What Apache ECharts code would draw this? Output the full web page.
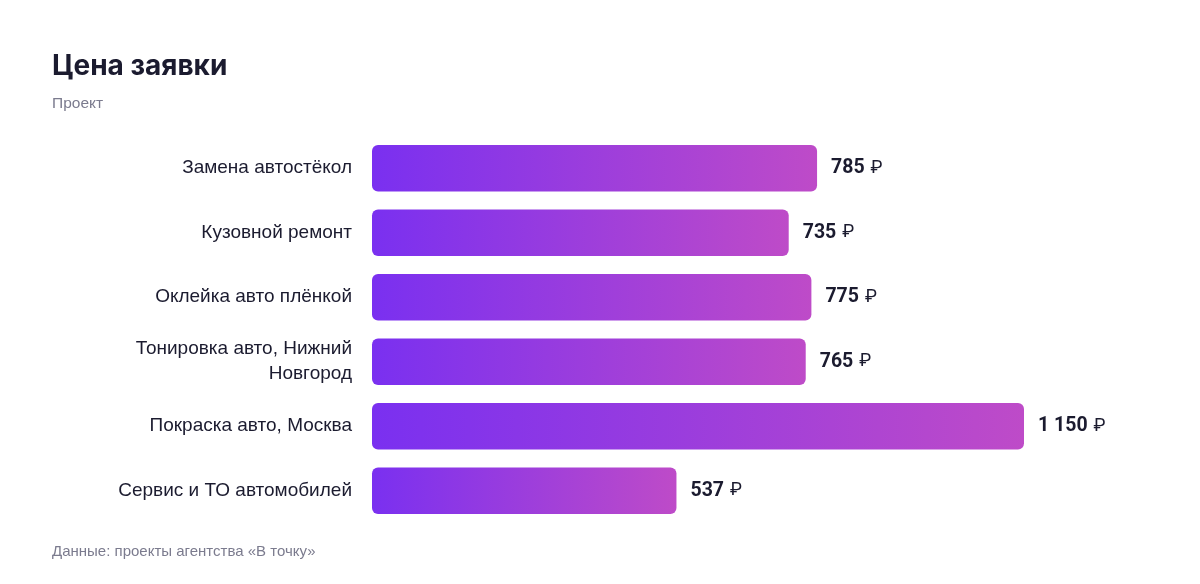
<!DOCTYPE html>
<html>
<head>
<meta charset="utf-8">
<script src="https://cdn.jsdelivr.net/npm/echarts@6/dist/echarts.min.js"></script>
<style>
  html, body { margin: 0; padding: 0; background: #fff; }
  #chart { width: 1200px; height: 584px; }
</style>
</head>
<body>
<div id="chart"></div>
<script>
// данные
const categories = [
    'Замена автостёкол',
    'Кузовной ремонт',
    'Оклейка авто плёнкой',
    'Тонировка авто, Нижний\nНовгород',
    'Покраска авто, Москва',
    'Сервис и ТО автомобилей'
];
const prices = [785, 735, 775, 765, 1150, 537];

const fmt = v => String(v).replace(/\B(?=(\d{3})+(?!\d))/g, ' ');

let myChart = echarts.init(document.getElementById('chart'));
let option = {
    backgroundColor: '#fff',
    animation: false,
    title: [
        {
            text: 'Цена заявки',
            left: 47, top: 48,
            textStyle: { fontFamily: 'Inter', fontSize: 28, fontWeight: 'bold', color: '#1b1b2f' }
        },
        {
            text: 'Проект',
            left: 47, top: 91,
            textStyle: { fontFamily: 'Liberation Sans', fontSize: 15.5, fontWeight: 'normal', color: '#7b7b8e' }
        },
        {
            text: 'Данные: проекты агентства «В точку»',
            left: 47, top: 539,
            textStyle: { fontFamily: 'Liberation Sans', fontSize: 15, fontWeight: 'normal', color: '#7b7b8e' }
        }
    ],
    grid: { left: 372, right: 176, top: 136, bottom: 61 },
    xAxis: {
        type: 'value',
        min: 0,
        max: 1150,
        show: false
    },
    yAxis: {
        type: 'category',
        inverse: true,
        data: categories,
        axisLine: { show: false },
        axisTick: { show: false },
        axisLabel: {
            margin: 20,
            fontFamily: 'Liberation Sans',
            fontSize: 19,
            lineHeight: 25,
            color: '#1b1b2f',
            align: 'right'
        }
    },
    series: [{
        type: 'bar',
        data: prices,
        barCategoryGap: '28%',
        itemStyle: {
            borderRadius: 6,
            color: new echarts.graphic.LinearGradient(0, 0, 1, 0, [
                { offset: 0, color: '#7a30f0' },
                { offset: 1, color: '#be4bc8' }
            ])
        },
        label: {
            show: true,
            position: 'right',
            distance: 14,
            formatter: p => '{n|' + fmt(p.value) + '}{s| }{r|₽}',
            rich: {
                n: { fontFamily: 'Roboto', fontWeight: 'bold', fontSize: 19.5, color: '#1b1b2f' },
                s: { fontSize: 10, width: 6 },
                r: { fontFamily: 'Roboto', fontWeight: 'normal', fontSize: 18, color: '#1b1b2f' }
            }
        }
    }]
};
myChart.setOption(option);
</script>
</body>
</html>
